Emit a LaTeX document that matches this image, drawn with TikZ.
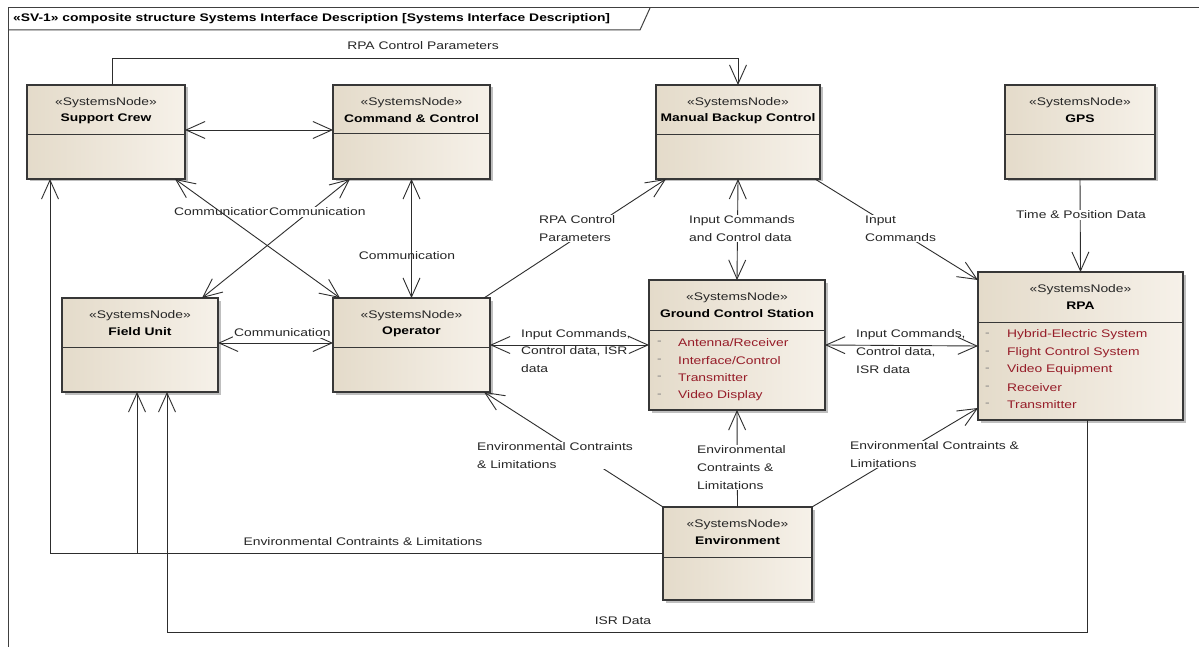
\documentclass[tikz,border=0pt]{standalone}
\usepackage{fontspec}
\setmainfont{Liberation Sans}[FakeStretch=1.26]
\usetikzlibrary{arrows.meta,calc,shadows}
\definecolor{boxL}{RGB}{228,219,202}
\definecolor{boxR}{RGB}{246,241,233}
\definecolor{boxline}{RGB}{55,55,55}
\definecolor{linec}{RGB}{45,45,45}
\definecolor{itemred}{RGB}{150,28,40}
\tikzset{
  sysbox/.style={draw=boxline, line width=1.1pt, left color=boxL, right color=boxR,
    inner sep=0pt, outer sep=0pt, anchor=north west,
    drop shadow={shadow xshift=2.5pt, shadow yshift=-2.5pt, fill=black, opacity=0.25}},
  divline/.style={draw=boxline, line width=1pt},
  stereo/.style={font=\fontsize{11}{13}\selectfont, text=black!85, inner sep=0pt},
  nname/.style={font=\fontsize{11}{13}\selectfont\bfseries, text=black, inner sep=0pt},
  itm/.style={font=\fontsize{11}{13}\selectfont, text=itemred, inner sep=0pt, anchor=west},
  dsh/.style={font=\fontsize{11}{13}\selectfont, text=black!50, inner sep=0pt, anchor=west},
  conn/.style={draw=linec, line width=0.9pt},
  arr/.style={-{Straight Barb[length=19pt,width=17pt]}},
  darr/.style={{Straight Barb[length=19pt,width=17pt]}-{Straight Barb[length=19pt,width=17pt]}},
  lab/.style={font=\fontsize{11}{17.8}\selectfont, text=black!85, inner sep=1pt, align=left},
  wlab/.style={lab, fill=white},
  frameline/.style={draw=black!75, line width=1pt},
}
\newcommand\sysnode[7]{%
  \node[sysbox, minimum width=#4pt, minimum height=#5pt] (#1) at (#2,#3) {};
  \draw[divline] ($(#1.north west)+(0,#6)$) -- ($(#1.north east)+(0,#6)$);
  \node[stereo] (#1-st) at ($(#1.north)+(0,17.5)$) {«SystemsNode»};
  \node[nname] (#1-nm) at ($(#1.north)+(0,34)$) {#7};
}
\newcommand\nitem[6]{% node, tag, dash dx, text dx, dy, text
  \node[dsh] (#1-d#2) at ($(#1.north west)+(#3,#5)$) {-};
  \node[itm] (#1-i#2) at ($(#1.north west)+(#4,#5)$) {#6};
}
\begin{document}
\begin{tikzpicture}[x=1pt,y=-1pt]
\useasboundingbox (0,0) rectangle (1199,647);
\clip (0,0) rectangle (1199,647);
\fill[white] (0,0) rectangle (1199,647);

% frame
\draw[frameline] (8,660) -- (8,8) -- (1215,8);
\draw[frameline] (8,30) -- (640,30) -- (650,8);
\node[font=\fontsize{11}{13}\selectfont\bfseries, anchor=west, inner sep=0pt] (hdr) at (13,19)
  {«SV-1» composite structure Systems Interface Description [Systems Interface Description]};

% nodes
\sysnode{sc}{27}{85}{158}{94}{50}{Support Crew}
\sysnode{cc}{333}{85}{157}{94}{49}{Command \& Control}
\sysnode{mbc}{656}{85}{164}{94}{50}{Manual Backup Control}
\sysnode{gps}{1005}{85}{150}{94}{50}{GPS}
\sysnode{fu}{62}{298}{156}{94}{49}{Field Unit}
\sysnode{op}{333}{298}{157}{94}{49}{Operator}
\sysnode{gcs}{649}{280}{176}{130}{50}{Ground Control Station}
\sysnode{rpa}{978}{272}{205}{148}{50}{RPA}
\sysnode{env}{663}{507}{149}{93}{50}{Environment}

\nitem{gcs}{1}{8}{29}{63}{Antenna/Receiver}
\nitem{gcs}{2}{8}{29}{80.5}{Interface/Control}
\nitem{gcs}{3}{8}{29}{98}{Transmitter}
\nitem{gcs}{4}{8}{29}{115.5}{Video Display}
\nitem{rpa}{1}{7}{29}{63}{Hybrid-Electric System}
\nitem{rpa}{2}{7}{29}{80.5}{Flight Control System}
\nitem{rpa}{3}{7}{29}{98}{Video Equipment}
\nitem{rpa}{4}{7}{29}{115.5}{Receiver}
\nitem{rpa}{5}{7}{29}{133}{Transmitter}

% connectors
\draw[conn, arr] ([xshift=6pt]sc.north) -- ++(0,-27) -| (mbc.north);
\node[lab] (l1) at (423,46) {RPA Control Parameters};

\draw[conn, darr] ($(sc.north east)+(0,45)$) -- ($(cc.north west)+(0,45)$);
\draw[conn, darr] ($(sc.south east)+(-10,0)$) -- ($(op.north west)+(7,0)$);
\node[lab, anchor=west] (l2) at (173,212) {Communication};
\draw[conn, darr] ($(cc.south west)+(17,0)$) -- ($(fu.north east)+(-16,0)$);
\node[wlab, anchor=west] (l3) at (268,212) {Communication};

\draw[conn, darr] (cc.south) -- (op.north);
\node[lab] (l4) at (407,256) {Communication};

\draw[conn, darr] ($(op.north west)+(0,45)$) -- ($(fu.north east)+(0,45)$);
\node[wlab, anchor=west] (l5) at (233,333) {Communication};

\draw[conn, darr] (op.east) -- (gcs.west);
\node[lab, anchor=west] (l6) at (520,351) {Input Commands,\\Control data, ISR\\data};

\draw[conn, arr] ($(op.north east)+(-6,0)$) -- ($(mbc.south west)+(10,0)$);
\node[wlab, anchor=west] (l7) at (538,228.5) {RPA Control\\Parameters};

\draw[conn, darr] (mbc.south) -- (gcs.north);
\node[wlab, anchor=west] (l8) at (688,228.5) {Input Commands\\and Control data};

\draw[conn, arr] ($(mbc.south east)+(-5,0)$) -- ($(rpa.north west)+(0,8)$);
\node[wlab, anchor=west] (l9) at (864,228.5) {Input\\Commands};

\draw[conn, arr] (gps.south) -- (rpa.north);
\node[wlab] (l10) at (1081,215) {Time \& Position Data};

\draw[conn, darr] (gcs.east) -- (rpa.west);
\node[lab, anchor=west] (l11) at (855,351.5) {Input Commands,\\Control data,\\ISR data};

\draw[conn, arr] (env.north west) -- ($(op.south east)+(-6,0)$);
\node[wlab, anchor=west] (l12) at (476,455.5) {Environmental Contraints\\\& Limitations};

\draw[conn, arr] (env.north) -- (gcs.south);
\node[wlab, anchor=west] (l13) at (696,467.5) {Environmental\\Contraints \&\\Limitations};

\draw[conn, arr] (env.north east) -- ($(rpa.south west)+(0,-12)$);
\node[wlab, anchor=west] (l14) at (849,454.5) {Environmental Contraints \&\\Limitations};

\draw[conn, arr] (env.west) -| ($(fu.south west)+(75,0)$);
\draw[conn, arr] (env.west) -| ($(sc.south west)+(23,0)$);
\node[lab] (l15) at (363,542) {Environmental Contraints \& Limitations};

\draw[conn, arr] ($(rpa.south west)+(109,0)$) -- ++(0,212) -| ($(fu.south west)+(105,0)$);
\node[lab] (l16) at (623,621) {ISR Data};
\end{tikzpicture}
\end{document}
